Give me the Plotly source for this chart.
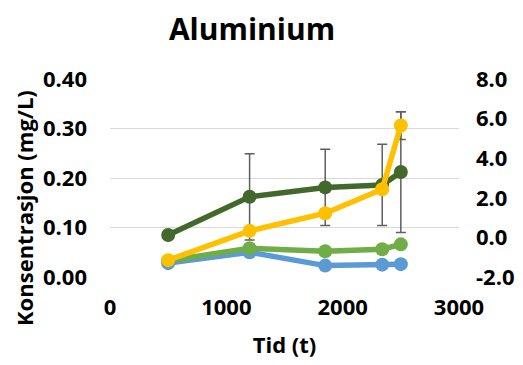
import plotly.graph_objects as go

tid = [500, 1200, 1850, 2340, 2500]
blue = [0.028, 0.050, 0.023, 0.025, 0.026]
light_green = [0.033, 0.058, 0.052, 0.056, 0.066]
dark_green = [0.085, 0.162, 0.181, 0.186, 0.212]
dark_green_err = [0.0, 0.087, 0.077, 0.082, 0.122]
yellow_right = [-1.15, 0.33, 1.22, 2.43, 5.65]
yellow_right_err = [0.0, 0.0, 0.0, 0.0, 0.7]

left_ticks = [0, 0.1, 0.2, 0.3, 0.4]
right_ticks = [-2, 0, 2, 4, 6, 8]
x_ticks = [0, 1000, 2000, 3000]

FONT = "Open Sans"
TICKFONT = dict(family=FONT, size=22, color="black", weight="bold")
err_style = dict(type="data", color="#5f5f5f", thickness=1.5, width=5, visible=True)

# page body has an 8px default margin, so the figure is drawn 8px smaller
W, H = 515, 357

fig = go.Figure()
fig.add_trace(go.Scatter(x=tid, y=blue, mode="lines+markers",
                         line=dict(color="#5B9BD5", width=5.5),
                         marker=dict(size=14, color="#5B9BD5"), name="blue"))
fig.add_trace(go.Scatter(x=tid, y=light_green, mode="lines+markers",
                         line=dict(color="#70AD47", width=5.5),
                         marker=dict(size=14, color="#70AD47"), name="lightgreen"))
fig.add_trace(go.Scatter(x=tid, y=yellow_right, mode="lines+markers", yaxis="y2",
                         line=dict(color="#FFC000", width=5.5),
                         marker=dict(size=14, color="#FFC000"),
                         error_y=dict(array=yellow_right_err, **err_style), name="yellow"))
fig.add_trace(go.Scatter(x=tid, y=dark_green, mode="lines+markers",
                         line=dict(color="#43682B", width=5.5),
                         marker=dict(size=14, color="#43682B"),
                         error_y=dict(array=dark_green_err, **err_style), name="darkgreen"))

fig.update_layout(
    width=W, height=H,
    margin=dict(l=102, r=64, t=71, b=88, autoexpand=False),
    paper_bgcolor="white", plot_bgcolor="white",
    showlegend=False,
    font=dict(family=FONT, color="black", size=16),
    title=dict(text="<b>Aluminium</b>", x=244/W, xref="container", xanchor="center",
               y=1 - 21/H, yref="container", yanchor="middle",
               font=dict(family=FONT, size=30, color="black")),
    xaxis=dict(range=[0, 3000], tickvals=x_ticks, ticktext=[str(v) for v in x_ticks],
               showgrid=False, zeroline=False, showline=False, ticks="",
               automargin=False, ticklabelstandoff=15, tickfont=TICKFONT,
               title=dict(text="<b>Tid (t)</b>", font=dict(family=FONT, size=22), standoff=17)),
    yaxis=dict(range=[0, 0.4], tickvals=left_ticks, ticktext=[f"{v:.2f}" for v in left_ticks],
               showgrid=True, gridcolor="#D9D9D9", gridwidth=1.3, zeroline=False,
               showline=False, ticks="", automargin=False, ticklabelstandoff=22,
               tickfont=TICKFONT),
    yaxis2=dict(range=[-2, 8], tickvals=right_ticks, ticktext=[f"{v:.1f}" for v in right_ticks],
                overlaying="y", side="right", showgrid=False, zeroline=False,
                showline=False, ticks="", automargin=False, ticklabelstandoff=16,
                tickfont=TICKFONT),
    annotations=[dict(text="<b>Konsentrasjon (mg/L)</b>", textangle=-90,
                      xref="paper", yref="paper", x=(0.5 - 102) / 349, y=0.346,
                      xanchor="left", yanchor="middle", showarrow=False, borderpad=0,
                      font=dict(family=FONT, size=22, color="black"))],
)

fig.write_html("out.html")
